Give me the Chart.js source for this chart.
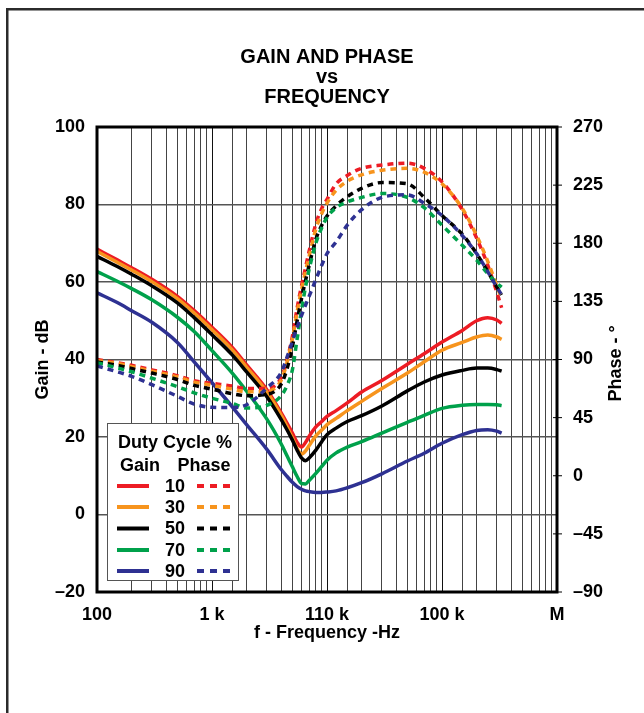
<!DOCTYPE html>
<html>
<head>
<meta charset="utf-8">
<script src="https://cdn.jsdelivr.net/npm/chart.js@4.4.1/dist/chart.umd.min.js"></script>
<style>
  html, body { margin: 0; padding: 0; background: #fff; }
  #wrap { position: absolute; left: 0; top: 0; width: 644px; height: 713px; }
</style>
</head>
<body>
<div id="wrap"><canvas id="myChart" width="644" height="713"></canvas></div>
<script>
// frequency points (Hz) shared by every curve
var freq = [100, 150, 200, 300, 500, 700, 1000, 1500, 2000, 3000, 4000, 4500, 5000, 5500, 6000, 6500,
    7000, 8000, 9000, 10000, 12000, 15000, 20000, 30000, 50000, 70000, 100000, 150000, 200000, 250000, 300000, 330000];

var duty = ['10', '30', '50', '70', '90'];
var colors = ['#ed1c24', '#f7941d', '#000000', '#00a14b', '#2e3192'];

// gain in dB
var gain10 = [68.5, 65.7, 63.7, 60.7, 56.3, 52.6, 48.3, 43.1, 38.6, 32.2, 26.2, 23.5, 21, 18.6, 17.4, 18.6,
    20.2, 22.6, 24, 25.3, 26.8, 28.8, 31.6, 34.6, 38.8, 41.5, 44.5, 47.5, 50, 50.8, 50.2, 49.3];
var gain30 = [67.9, 65.1, 63.1, 60.1, 55.7, 52, 47.7, 42.5, 38, 31.6, 25.6, 22.6, 19.8, 17, 15.6, 16.4,
    17.8, 20.3, 21.8, 23.2, 24.8, 26.8, 29.2, 32.5, 36.5, 39.4, 42.4, 44.4, 45.8, 46.3, 45.8, 45.2];
var gain50 = [66.6, 64, 62, 59, 54.6, 50.8, 46.4, 41.2, 36.8, 30.4, 24.5, 21.8, 19.2, 16.6, 14.6, 13.9,
    14.6, 16.6, 18.8, 20.6, 22.3, 24, 25.5, 28, 31.9, 34.2, 36, 37.2, 37.8, 37.8, 37.4, 37];
var gain70 = [62.7, 60.2, 58.3, 55.4, 50.9, 47.2, 42.3, 36.5, 31.8, 24.6, 18.2, 15.1, 12.3, 9.8, 8, 7.9,
    8.8, 10.6, 12.4, 14, 15.9, 17.4, 18.8, 21, 23.8, 25.6, 27.4, 28.2, 28.4, 28.4, 28.3, 28.1];
var gain90 = [57.2, 54.7, 52.6, 49.6, 44.4, 39.4, 34, 27.8, 23.2, 16.8, 11.6, 9.8, 8.3, 7.2, 6.5, 6.1,
    5.9, 5.7, 5.7, 5.8, 6.1, 6.9, 8.2, 10.5, 13.8, 15.8, 18.4, 20.6, 21.7, 21.9, 21.5, 21];

// phase in degrees
var phase10 = [90, 87.5, 85.5, 82, 77.5, 73.5, 71.5, 69.5, 67.5, 67.5, 76, 90, 108, 130, 147, 161,
    174, 195, 207, 214, 226, 232.5, 238, 240.5, 242, 238, 227.5, 206, 184, 163, 142, 130];
var phase30 = [89, 87, 84.5, 81, 76.5, 72.5, 70, 67, 65, 65.5, 74, 88, 106, 127, 144, 158,
    170, 191, 203, 211, 221, 228, 233, 236.5, 238, 235, 226, 207, 186, 166, 147, 137];
var phase50 = [88, 85.5, 83, 79.5, 74.5, 70, 67, 63.5, 62, 63, 71, 83, 100, 120, 137, 151,
    163, 183, 194, 201, 209, 216, 222.5, 227, 226, 215.5, 201.5, 187, 172, 158, 146, 140];
var phase70 = [87.5, 83.5, 80.5, 75.5, 69, 64.2, 60, 56, 52.5, 54.5, 62, 70, 82, 106, 128, 146,
    160, 180, 192, 200, 207.5, 212, 215.5, 218.5, 215.5, 207.5, 194, 178.5, 167, 156.5, 149, 146];
var phase90 = [85, 80.5, 77, 70.5, 61.5, 55.5, 53, 52.8, 55, 68, 80, 92, 104, 115, 124, 132,
    139, 152, 163, 172, 181, 194, 206, 215.5, 217.5, 211, 201.5, 186, 172, 158, 146, 140];

var gainTicks = [-20, 0, 20, 40, 60, 80, 100];
var phaseTicks = [-90, -45, 0, 45, 90, 135, 180, 225, 270];
var freqLabels = { 100: '100', 1000: '1 k', 10000: '110 k', 100000: '100 k', 1000000: 'M' };

var FONT = "'Liberation Sans', Arial, sans-serif";

function toPoints(arr) {
    return freq.map(function (f, i) { return { x: f, y: arr[i] }; });
}

function minus(v) {
    return v < 0 ? '\u2013' + Math.abs(v) : '' + v;
}

var gains = [gain10, gain30, gain50, gain70, gain90];
var phases = [phase10, phase30, phase50, phase70, phase90];
var datasets = [];
for (let i = 0; i < duty.length; i++) {
    datasets.push({
        label: 'Gain ' + duty[i],
        data: toPoints(gains[i]),
        yAxisID: 'y',
        borderColor: colors[i],
        borderWidth: 3.5,
        pointRadius: 0,
        cubicInterpolationMode: 'monotone',
        order: 10 - i
    });
    datasets.push({
        label: 'Phase ' + duty[i],
        data: toPoints(phases[i]),
        yAxisID: 'yPhase',
        borderColor: colors[i],
        borderWidth: 3.5,
        borderDash: [6, 5],
        pointRadius: 0,
        cubicInterpolationMode: 'monotone',
        order: 5 - i
    });
}

// frame, right axis title/ticks and the duty cycle key
var extras = {
    id: 'extras',
    afterDraw: function (chart) {
        var ctx = chart.ctx;
        var a = chart.chartArea;
        var yp = chart.scales.yPhase;
        ctx.save();
        // outer border (top and left only)
        ctx.fillStyle = '#2b2b2b';
        ctx.fillRect(6, 8, 644, 2.5);
        ctx.fillRect(6, 8, 2.5, 713);

        // plot frame
        ctx.strokeStyle = '#000';
        ctx.lineWidth = 3;
        ctx.strokeRect(a.left, a.top, a.right - a.left, a.bottom - a.top);

        // short ticks across the phase axis
        ctx.lineWidth = 1;
        phaseTicks.forEach(function (p) {
            var y = yp.getPixelForValue(p);
            ctx.beginPath();
            ctx.moveTo(a.right - 4, y);
            ctx.lineTo(a.right + 5, y);
            ctx.stroke();
        });

        // right axis title, reading bottom to top
        ctx.fillStyle = '#000';
        ctx.font = 'bold 18px ' + FONT;
        ctx.textAlign = 'center';
        ctx.textBaseline = 'middle';
        ctx.translate(616, (a.top + a.bottom) / 2 + 4);
        ctx.rotate(-Math.PI / 2);
        ctx.fillText('Phase - \u00b0', 0, 0);
        ctx.setTransform(1, 0, 0, 1, 0, 0);

        // key box
        var bx = 107, by = 423, bw = 131, bh = 157;
        ctx.fillStyle = '#fff';
        ctx.fillRect(bx, by, bw, bh);
        ctx.strokeStyle = '#555';
        ctx.lineWidth = 1;
        ctx.strokeRect(bx + 0.5, by + 0.5, bw, bh);
        ctx.fillStyle = '#000';
        ctx.fillText('Duty Cycle %', 175, 443);
        ctx.fillText('Gain', 140, 466);
        ctx.fillText('Phase', 204, 466);
        var rows = [486, 507, 528.5, 550, 571];
        for (let i = 0; i < duty.length; i++) {
            var y = rows[i];
            ctx.strokeStyle = colors[i];
            ctx.lineWidth = 4;
            ctx.setLineDash([]);
            ctx.beginPath();
            ctx.moveTo(117, y);
            ctx.lineTo(149, y);
            ctx.stroke();
            ctx.setLineDash([7, 6]);
            ctx.beginPath();
            ctx.moveTo(197, y);
            ctx.lineTo(233, y);
            ctx.stroke();
            ctx.fillStyle = '#000';
            ctx.fillText(duty[i], 175, y + 1);
        }
        ctx.restore();
    }
};

var ctx = document.getElementById('myChart');
var chart = new Chart(ctx, {
    type: 'line',
    data: { datasets: datasets },
    plugins: [extras],
    options: {
        responsive: false,
        animation: false,
        layout: { padding: 0 },
        plugins: {
            legend: { display: false },
            tooltip: { enabled: false },
            title: {
                display: true,
                fullSize: false,
                text: ['GAIN AND PHASE', 'vs', 'FREQUENCY'],
                color: '#000',
                font: { family: FONT, size: 20, weight: 'bold', lineHeight: '20px' },
                padding: { top: 47, bottom: 20 }
            }
        },
        scales: {
            x: {
                type: 'logarithmic',
                min: 100,
                max: 1000000,
                afterFit: function (s) { s.height = 121; },
                border: { display: false },
                grid: {
                    drawTicks: false,
                    lineWidth: 1,
                    color: function (c) {
                        var v = c.tick ? c.tick.value : 0;
                        return freqLabels[v] ? '#111' : '#444';
                    }
                },
                ticks: {
                    autoSkip: false,
                    maxRotation: 0,
                    padding: 12,
                    color: '#000',
                    font: { family: FONT, size: 18, weight: 'bold' },
                    callback: function (v) { return freqLabels[v] || ''; }
                },
                title: {
                    display: true,
                    text: 'f - Frequency -Hz',
                    color: '#000',
                    font: { family: FONT, size: 18, weight: 'bold' },
                    padding: { top: 0, bottom: 69 }
                }
            },
            y: {
                position: 'left',
                min: -20,
                max: 100,
                afterFit: function (s) { s.width = 97; },
                afterBuildTicks: function (s) { s.ticks = gainTicks.map(function (v) { return { value: v }; }); },
                border: { display: false },
                grid: { drawTicks: false, color: '#555', lineWidth: 1.5 },
                ticks: {
                    padding: 12,
                    color: '#000',
                    font: { family: FONT, size: 18, weight: 'bold' },
                    callback: minus
                },
                title: {
                    display: true,
                    text: 'Gain - dB',
                    color: '#000',
                    font: { family: FONT, size: 18, weight: 'bold' },
                    padding: { top: 32, bottom: 0 }
                }
            },
            yPhase: {
                position: 'right',
                min: -90,
                max: 270,
                afterFit: function (s) { s.width = 87; },
                afterBuildTicks: function (s) { s.ticks = phaseTicks.map(function (v) { return { value: v }; }); },
                border: { display: false },
                grid: { drawOnChartArea: false, drawTicks: false },
                ticks: {
                    padding: 16,
                    color: '#000',
                    font: { family: FONT, size: 18, weight: 'bold' },
                    callback: minus
                }
            }
        }
    }
});
</script>
</body>
</html>
